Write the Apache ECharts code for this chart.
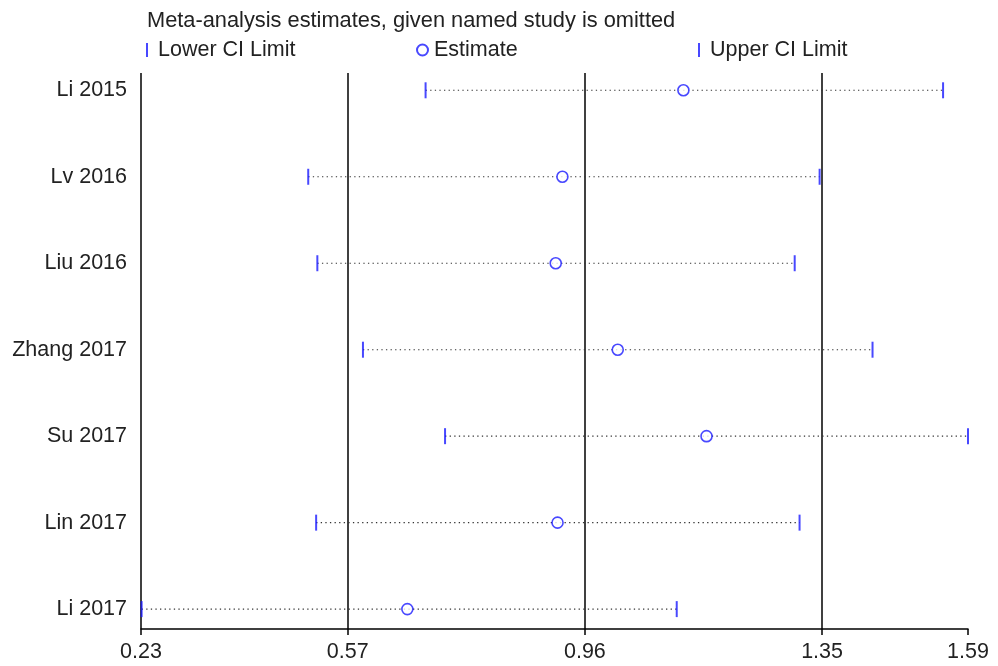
<!DOCTYPE html>
<html>
<head>
<meta charset="utf-8">
<script src="https://cdn.jsdelivr.net/npm/echarts@6/dist/echarts.min.js"></script>
<style>html,body{margin:0;padding:0;background:#fff;}#c{width:998px;height:666px;}</style>
</head>
<body>
<div id="c"></div>
<script>
const studies = ['Li 2015','Lv 2016','Liu 2016','Zhang 2017','Su 2017','Lin 2017','Li 2017'];
const lowerCI = [0.698, 0.505, 0.520, 0.595, 0.730, 0.518, 0.231];
const estimate = [1.122, 0.923, 0.912, 1.014, 1.160, 0.915, 0.668];
const upperCI = [1.549, 1.346, 1.305, 1.433, 1.590, 1.313, 1.111];
const xTicks = [0.23, 0.57, 0.96, 1.35, 1.59];
const refLines = [0.23, 0.57, 0.96, 1.35];
const titleText = 'Meta-analysis estimates, given named study is omitted';

const FONT = 'Liberation Sans, Arial, sans-serif';
const FS = 21.5;
const BLUE = '#1a1aff';
const rowIdx = studies.map((s, i) => i + 1);

const chart = echarts.init(document.getElementById('c'), null, {renderer: 'canvas'});
chart.setOption({
  animation: false,
  backgroundColor: '#fff',
  title: {
    text: titleText, left: 142, top: 5,
    textStyle: {fontFamily: FONT, fontSize: 21.8, fontWeight: 'normal', color: '#222'}
  },
  legend: [
    {data: ['Lower CI Limit'], left: 141, top: 34, itemWidth: 2, itemHeight: 14,
     textStyle: {fontFamily: FONT, fontSize: FS, color: '#222', padding: [0,0,0,5]}},
    {data: ['Estimate'], left: 411, top: 34, itemWidth: 11, itemHeight: 11,
     textStyle: {fontFamily: FONT, fontSize: FS, color: '#222', padding: [0,0,0,1]}},
    {data: ['Upper CI Limit'], left: 693, top: 34, itemWidth: 2, itemHeight: 14,
     textStyle: {fontFamily: FONT, fontSize: FS, color: '#222', padding: [0,0,0,5]}}
  ],
  grid: {left: 141, right: 30, top: 73, bottom: 37, containLabel: false},
  xAxis: {
    type: 'value', min: 0.23, max: 1.59,
    axisLine: {show: true, lineStyle: {color: '#000', width: 1.5}},
    axisTick: {show: true, customValues: xTicks, length: 6, lineStyle: {color: '#000', width: 1.5}},
    axisLabel: {customValues: xTicks, formatter: v => v.toFixed(2), fontFamily: FONT, fontSize: FS, color: '#222', margin: 12},
    splitLine: {show: false}
  },
  yAxis: {
    type: 'value', inverse: true, min: 0.8, max: 7.23,
    axisLine: {show: false},
    axisTick: {show: false},
    splitLine: {show: false},
    axisLabel: {customValues: rowIdx, formatter: v => studies[Math.round(v) - 1] || '',
                fontFamily: FONT, fontSize: FS, color: '#222', margin: 14}
  },
  series: [
    {
      name: 'CI', type: 'custom', z: 2,
      data: studies.map((s, i) => [lowerCI[i], upperCI[i], i + 1]),
      encode: {x: [0, 1], y: 2},
      renderItem: function (params, api) {
        const a = api.coord([api.value(0), api.value(2)]);
        const b = api.coord([api.value(1), api.value(2)]);
        return {type: 'line', shape: {x1: a[0], y1: a[1], x2: b[0], y2: b[1]},
                style: {stroke: '#333', lineWidth: 1.1, lineDash: [1.3, 3.3]}};
      },
      markLine: {
        silent: true, symbol: 'none', z: 1,
        label: {show: false},
        lineStyle: {color: '#000', width: 1.5, type: 'solid'},
        data: refLines.map(v => ({xAxis: v}))
      }
    },
    {
      name: 'Lower CI Limit', type: 'scatter', z: 4,
      symbol: 'rect', symbolSize: [2, 16],
      itemStyle: {color: BLUE},
      data: studies.map((s, i) => [lowerCI[i], i + 1])
    },
    {
      name: 'Upper CI Limit', type: 'scatter', z: 4,
      symbol: 'rect', symbolSize: [2, 16],
      itemStyle: {color: BLUE},
      data: studies.map((s, i) => [upperCI[i], i + 1])
    },
    {
      name: 'Estimate', type: 'scatter', z: 5,
      symbol: 'circle', symbolSize: 11,
      itemStyle: {color: '#fff', borderColor: BLUE, borderWidth: 1.6},
      data: studies.map((s, i) => [estimate[i], i + 1])
    }
  ]
});
</script>
</body>
</html>
